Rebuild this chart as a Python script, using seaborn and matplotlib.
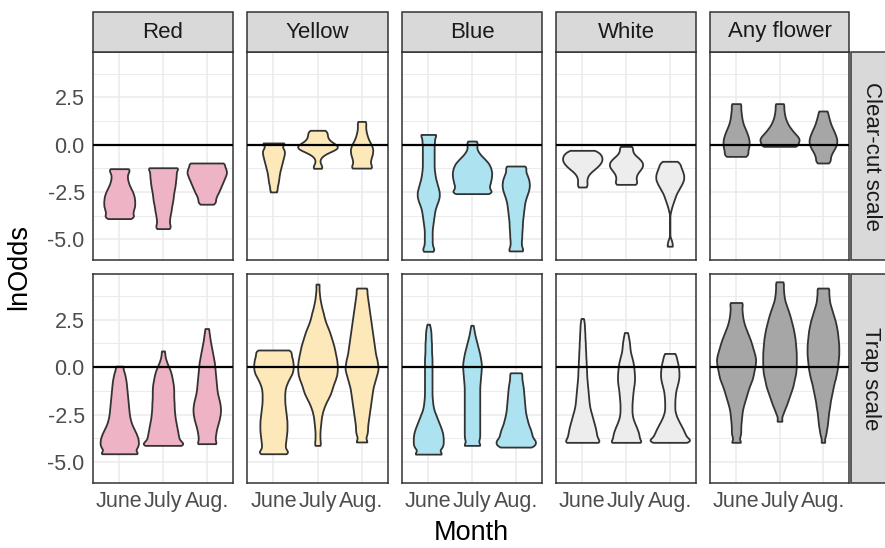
import numpy as np
import pandas as pd
import matplotlib
matplotlib.use("Agg")
import matplotlib.pyplot as plt
from matplotlib.patches import Rectangle
import seaborn as sns

MONTHS = ["June", "July", "Aug."]
COLOURS = ["Red", "Yellow", "Blue", "White", "Any flower"]
SCALES = ["Clear-cut scale", "Trap scale"]
FILLS = ["#EEB3C4", "#FCE8B9", "#ADE2F1", "#EDEDED", "#A6A6A6"]
Y_TICKS = [-5.0, -2.5, 0.0, 2.5]
Y_TICK_LABELS = ["-5.0", "-2.5", "0.0", "2.5"]

# Frequency tables: (lnOdds, number of observations) for each month.
CC_RED = {
    "June": [(-1.27, 22), (-1.5, 16), (-1.75, 16), (-2.0, 18), (-2.25, 22), (-2.5, 27), (-2.75, 30),
             (-3.0, 31), (-3.25, 31), (-3.5, 28), (-3.75, 24), (-3.91, 20)],
    "July": [(-1.22, 34), (-1.5, 25), (-1.75, 24), (-2.0, 23), (-2.25, 22), (-2.5, 20), (-2.75, 19),
             (-3.0, 18), (-3.25, 16), (-3.5, 15), (-3.75, 13), (-4.0, 12), (-4.25, 11), (-4.44, 12)],
    "Aug.": [(-0.97, 42), (-1.25, 39), (-1.5, 40), (-1.75, 36), (-2.0, 32), (-2.25, 28), (-2.5, 24),
             (-2.75, 19), (-3.0, 15), (-3.15, 10)],
}
CC_YELLOW = {
    "June": [(0.09, 24), (-0.25, 19), (-0.5, 18), (-0.75, 16), (-1.0, 14), (-1.25, 12), (-1.5, 10),
             (-1.75, 9), (-2.0, 8), (-2.25, 6), (-2.5, 6)],
    "July": [(0.76, 24), (0.625, 17), (0.5, 17), (0.375, 18), (0.25, 19), (0.125, 24), (0.0, 36),
             (-0.125, 42), (-0.25, 36), (-0.375, 22), (-0.5, 12), (-0.625, 7), (-0.75, 4), (-0.875, 3),
             (-1.0, 4), (-1.125, 8), (-1.25, 14)],
    "Aug.": [(1.23, 8), (1.0, 7), (0.75, 8), (0.5, 10), (0.25, 13), (0.0, 18), (-0.25, 21), (-0.5, 20),
             (-0.75, 17), (-1.0, 15), (-1.24, 21)],
}
CC_BLUE = {
    "June": [(0.54, 15), (0.25, 10), (0.0, 9), (-0.25, 9), (-0.5, 9), (-0.75, 9), (-1.0, 9), (-1.25, 9),
             (-1.5, 10), (-1.75, 11), (-2.0, 13), (-2.25, 15), (-2.5, 17), (-2.75, 17), (-3.0, 15),
             (-3.25, 12), (-3.5, 10), (-3.75, 9), (-4.0, 8), (-4.25, 7), (-4.5, 6), (-4.75, 6), (-5.0, 6),
             (-5.25, 6), (-5.5, 7), (-5.64, 6)],
    "July": [(0.19, 9), (0.0, 9), (-0.25, 10), (-0.5, 16), (-0.75, 26), (-1.0, 35), (-1.25, 39), (-1.5, 41),
             (-1.75, 40), (-2.0, 38), (-2.25, 35), (-2.5, 33), (-2.59, 20)],
    "Aug.": [(-1.13, 20), (-1.375, 17), (-1.625, 21), (-1.875, 24), (-2.125, 25), (-2.375, 24), (-2.625, 21),
             (-2.875, 18), (-3.125, 16), (-3.375, 15), (-3.625, 14), (-3.875, 13), (-4.125, 12),
             (-4.375, 12), (-4.625, 11), (-4.875, 11), (-5.125, 10), (-5.375, 10), (-5.62, 15)],
}
CC_WHITE = {
    "June": [(-0.30, 30), (-0.5, 38), (-0.7, 41), (-0.9, 40), (-1.1, 34), (-1.3, 25), (-1.5, 15), (-1.7, 10),
             (-1.9, 9), (-2.1, 9), (-2.24, 8)],
    "July": [(-0.09, 17), (-0.3, 13), (-0.5, 16), (-0.7, 27), (-0.9, 35), (-1.1, 37), (-1.3, 32), (-1.5, 24),
             (-1.7, 21), (-1.9, 21), (-2.10, 28)],
    "Aug.": [(-0.88, 14), (-1.1, 19), (-1.35, 23), (-1.6, 26), (-1.85, 26), (-2.1, 22), (-2.35, 17),
             (-2.6, 12), (-2.85, 9), (-3.1, 6), (-3.35, 3), (-3.55, 1), (-5.1, 4), (-5.37, 6)],
}
CC_ANY = {
    "June": [(2.17, 14), (1.95, 10), (1.75, 11), (1.55, 12), (1.35, 13), (1.15, 15), (0.95, 18), (0.75, 22),
             (0.55, 25), (0.35, 28), (0.15, 29), (-0.05, 29), (-0.25, 27), (-0.45, 23), (-0.62, 26)],
    "July": [(2.17, 11), (1.95, 8), (1.75, 9), (1.55, 10), (1.35, 12), (1.15, 15), (0.95, 19), (0.75, 25),
             (0.55, 31), (0.35, 39), (0.15, 40), (-0.09, 46)],
    "Aug.": [(1.78, 12), (1.55, 11), (1.35, 13), (1.15, 15), (0.95, 18), (0.75, 22), (0.55, 25), (0.35, 28),
             (0.15, 29), (-0.05, 27), (-0.25, 23), (-0.45, 18), (-0.65, 15), (-0.85, 13), (-0.97, 10)],
}
TS_RED = {
    "June": [(0.05, 10), (-0.25, 11), (-0.5, 13), (-0.75, 15), (-1.0, 16), (-1.25, 17), (-1.5, 18),
             (-1.75, 19), (-2.0, 20), (-2.25, 21), (-2.5, 22), (-2.75, 24), (-3.0, 27), (-3.25, 32),
             (-3.5, 37), (-3.75, 41), (-4.0, 42), (-4.25, 41), (-4.56, 52)],
    "July": [(0.85, 4), (0.6, 4), (0.35, 7), (0.1, 11), (-0.15, 16), (-0.4, 19), (-0.65, 21), (-0.9, 23),
             (-1.15, 24), (-1.4, 24), (-1.65, 24), (-1.9, 25), (-2.15, 25), (-2.4, 26), (-2.65, 27),
             (-2.9, 29), (-3.15, 31), (-3.4, 33), (-3.65, 35), (-3.9, 36), (-4.12, 48)],
    "Aug.": [(2.03, 5), (1.75, 6), (1.5, 7), (1.25, 9), (1.0, 11), (0.75, 13), (0.5, 15), (0.25, 17),
             (0.0, 18), (-0.25, 19), (-0.5, 20), (-0.75, 21), (-1.0, 22), (-1.25, 23), (-1.5, 25),
             (-1.75, 28), (-2.0, 30), (-2.25, 31), (-2.5, 30), (-2.75, 28), (-3.0, 25), (-3.25, 22),
             (-3.5, 20), (-3.75, 19), (-4.03, 26)],
}
TS_YELLOW = {
    "June": [(0.90, 33), (0.65, 31), (0.4, 34), (0.15, 35), (-0.1, 35), (-0.35, 33), (-0.6, 28), (-0.85, 24),
             (-1.1, 21), (-1.35, 20), (-1.6, 20), (-1.85, 20), (-2.1, 21), (-2.35, 22), (-2.6, 23),
             (-2.85, 24), (-3.1, 24), (-3.35, 24), (-3.6, 23), (-3.85, 22), (-4.1, 21), (-4.35, 20),
             (-4.56, 26)],
    "July": [(4.37, 4), (4.1, 3), (3.85, 4), (3.6, 5), (3.35, 7), (3.1, 9), (2.85, 12), (2.6, 14), (2.35, 17),
             (2.1, 21), (1.85, 25), (1.6, 28), (1.35, 31), (1.1, 34), (0.85, 36), (0.6, 38), (0.35, 40),
             (0.1, 41), (-0.15, 41), (-0.4, 40), (-0.65, 37), (-0.9, 33), (-1.15, 30), (-1.4, 27),
             (-1.65, 22), (-1.9, 17), (-2.15, 13), (-2.4, 10), (-2.65, 8), (-2.9, 7), (-3.15, 6),
             (-3.4, 5), (-3.65, 5), (-3.9, 5), (-4.12, 6)],
    "Aug.": [(4.16, 9), (3.9, 8), (3.65, 9), (3.4, 10), (3.15, 11), (2.9, 12), (2.65, 13), (2.4, 14),
             (2.15, 15), (1.9, 16), (1.65, 17), (1.4, 18), (1.15, 19), (0.9, 20), (0.65, 21), (0.4, 23),
             (0.15, 24), (-0.1, 25), (-0.35, 23), (-0.6, 21), (-0.85, 19), (-1.1, 17), (-1.35, 16),
             (-1.6, 15), (-1.85, 14), (-2.1, 13), (-2.35, 12), (-2.6, 11), (-2.85, 10), (-3.1, 9),
             (-3.35, 9), (-3.6, 8), (-3.94, 11)],
}
TS_BLUE = {
    "June": [(2.26, 3), (2.0, 5), (1.75, 6), (1.5, 6), (1.25, 7), (1.0, 7), (0.75, 7), (0.5, 8), (0.25, 8),
             (0.0, 8), (-0.25, 8), (-0.5, 8), (-0.75, 8), (-1.0, 8), (-1.25, 8), (-1.5, 8), (-1.75, 9),
             (-2.0, 10), (-2.25, 12), (-2.5, 16), (-2.75, 20), (-3.0, 24), (-3.25, 28), (-3.5, 31),
             (-3.75, 32), (-4.0, 32), (-4.25, 31), (-4.58, 38)],
    "July": [(2.20, 3), (1.95, 5), (1.7, 7), (1.45, 10), (1.2, 13), (0.95, 16), (0.7, 19), (0.45, 21),
             (0.2, 23), (-0.05, 23), (-0.3, 22), (-0.55, 21), (-0.8, 20), (-1.05, 19), (-1.3, 19),
             (-1.55, 19), (-1.8, 19), (-2.05, 19), (-2.3, 19), (-2.55, 19), (-2.8, 19), (-3.05, 19),
             (-3.3, 19), (-3.55, 19), (-3.8, 19), (-4.12, 26)],
    "Aug.": [(-0.30, 16), (-0.55, 14), (-0.8, 16), (-1.05, 18), (-1.3, 19), (-1.55, 20), (-1.8, 21),
             (-2.05, 22), (-2.3, 23), (-2.55, 25), (-2.8, 28), (-3.05, 31), (-3.3, 36), (-3.55, 39),
             (-3.8, 40), (-4.0, 39), (-4.21, 40)],
}
TS_WHITE = {
    "June": [(2.56, 3), (2.3, 5), (2.05, 5), (1.8, 6), (1.55, 6), (1.3, 7), (1.05, 7), (0.8, 8), (0.55, 8),
             (0.3, 9), (0.05, 9), (-0.2, 10), (-0.45, 10), (-0.7, 11), (-0.95, 12), (-1.2, 13), (-1.45, 14),
             (-1.7, 15), (-1.95, 16), (-2.2, 18), (-2.45, 21), (-2.7, 24), (-2.95, 27), (-3.2, 30),
             (-3.45, 32), (-3.7, 34), (-3.96, 46)],
    "July": [(1.82, 4), (1.57, 6), (1.32, 8), (1.07, 9), (0.82, 10), (0.57, 13), (0.32, 16), (0.07, 18),
             (-0.18, 19), (-0.43, 20), (-0.68, 20), (-0.93, 19), (-1.18, 17), (-1.43, 16), (-1.68, 15),
             (-1.93, 14), (-2.18, 14), (-2.43, 14), (-2.68, 16), (-2.93, 20), (-3.18, 25), (-3.43, 29),
             (-3.68, 32), (-3.96, 44)],
    "Aug.": [(0.72, 14), (0.47, 16), (0.22, 19), (-0.03, 21), (-0.28, 22), (-0.53, 22), (-0.78, 20),
             (-1.03, 17), (-1.28, 14), (-1.53, 13), (-1.78, 12), (-2.03, 12), (-2.28, 12), (-2.53, 15),
             (-2.78, 20), (-3.03, 26), (-3.28, 32), (-3.53, 37), (-3.78, 40), (-3.96, 40)],
}
TS_ANY = {
    "June": [(3.40, 15), (3.15, 12), (2.9, 13), (2.65, 14), (2.4, 16), (2.15, 19), (1.9, 23), (1.65, 27),
             (1.4, 31), (1.15, 34), (0.9, 37), (0.65, 40), (0.4, 42), (0.15, 41), (-0.1, 39), (-0.35, 37),
             (-0.6, 35), (-0.85, 31), (-1.1, 27), (-1.35, 24), (-1.6, 21), (-1.85, 18), (-2.1, 15),
             (-2.35, 13), (-2.6, 12), (-2.85, 11), (-3.1, 10), (-3.35, 10), (-3.6, 10), (-3.96, 13)],
    "July": [(4.49, 10), (4.25, 9), (4.0, 10), (3.75, 11), (3.5, 13), (3.25, 17), (3.0, 21), (2.75, 25),
             (2.5, 28), (2.25, 31), (2.0, 34), (1.75, 36), (1.5, 38), (1.25, 39), (1.0, 40), (0.75, 41),
             (0.5, 41), (0.25, 41), (0.0, 41), (-0.25, 40), (-0.5, 38), (-0.75, 35), (-1.0, 33),
             (-1.25, 29), (-1.5, 25), (-1.75, 21), (-2.0, 17), (-2.25, 12), (-2.5, 8), (-2.85, 8)],
    "Aug.": [(4.16, 14), (3.9, 12), (3.65, 13), (3.4, 14), (3.15, 17), (2.9, 20), (2.65, 23), (2.4, 26),
             (2.15, 28), (1.9, 30), (1.65, 31), (1.4, 32), (1.15, 33), (0.9, 33), (0.65, 33), (0.4, 32),
             (0.15, 31), (-0.1, 30), (-0.35, 28), (-0.6, 26), (-0.85, 23), (-1.1, 21), (-1.35, 19),
             (-1.6, 17), (-1.85, 15), (-2.1, 14), (-2.35, 12), (-2.6, 11), (-2.85, 10), (-3.1, 9),
             (-3.35, 7), (-3.6, 6), (-3.96, 5)],
}

TABLES = {
    ("Clear-cut scale", "Red"): CC_RED,
    ("Clear-cut scale", "Yellow"): CC_YELLOW,
    ("Clear-cut scale", "Blue"): CC_BLUE,
    ("Clear-cut scale", "White"): CC_WHITE,
    ("Clear-cut scale", "Any flower"): CC_ANY,
    ("Trap scale", "Red"): TS_RED,
    ("Trap scale", "Yellow"): TS_YELLOW,
    ("Trap scale", "Blue"): TS_BLUE,
    ("Trap scale", "White"): TS_WHITE,
    ("Trap scale", "Any flower"): TS_ANY,
}

# Expand the frequency tables into one long table of observations
frames = []
for (scale, colour), table in TABLES.items():
    for month in MONTHS:
        values, counts = zip(*table[month])
        frames.append(pd.DataFrame({"scale": scale, "colour": colour, "month": month,
                                    "lnOdds": np.repeat(values, counts)}))
df = pd.concat(frames, ignore_index=True)

# Gaussian kernel with a fixed bandwidth in lnOdds units
BANDWIDTH = 0.15


def kde_factor(kde):
    return BANDWIDTH / np.std(kde.dataset, ddof=1)


sns.set_style("white")
plt.rcParams["font.family"] = ["Liberation Sans", "DejaVu Sans"]

W, H = 885, 548
fig = plt.figure(figsize=(W / 100, H / 100), dpi=100)
COL_X = [(93, 233), (247, 388), (402, 542), (556, 696), (710, 849)]
ROW_Y = [(52, 260), (274, 483)]
STRIP_Y = (12, 52)
STRIP_X = (851, 891)
EDGE = "#333333"
TICK_SIZE = 15.5
STRIP_SIZE = 16
TITLE_SIZE = 19.5


def fig_box(x0, x1, y0, y1):
    return [x0 / W, 1 - y1 / H, (x1 - x0) / W, (y1 - y0) / H]


for r, scale in enumerate(SCALES):
    for c, colour in enumerate(COLOURS):
        ax = fig.add_axes(fig_box(*COL_X[c], *ROW_Y[r]))
        sub = df[(df["scale"] == scale) & (df["colour"] == colour)]
        sns.violinplot(data=sub, x="month", y="lnOdds", order=MONTHS, color=FILLS[c], saturation=1,
                       cut=0, width=0.9, density_norm="area", inner=None, linewidth=1.3,
                       linecolor=EDGE, bw_method=kde_factor, gridsize=200, ax=ax)
        ax.axhline(0, color="black", lw=1.6, zorder=5)
        ax.set_xlim(-0.6, 2.6)
        ax.set_ylim(-6.1, 4.9)
        ax.set_yticks(Y_TICKS)
        ax.set_yticklabels(Y_TICK_LABELS)
        ax.set_yticks([-3.75, -1.25, 1.25, 3.75], minor=True)
        ax.set_xticks(range(len(MONTHS)))
        ax.set_xticklabels(MONTHS)
        ax.set_axisbelow(True)
        ax.grid(True, which="major", color="#EBEBEB", lw=1.1)
        ax.grid(True, which="minor", axis="y", color="#EBEBEB", lw=0.7)
        ax.set_xlabel("")
        ax.set_ylabel("")
        for sp in ax.spines.values():
            sp.set_visible(True)
            sp.set_color(EDGE)
            sp.set_linewidth(1.1)
        ax.tick_params(which="major", length=3.8, width=1.0, color=EDGE, labelcolor="#4D4D4D",
                       labelsize=TICK_SIZE, pad=2.2)
        ax.tick_params(which="minor", length=0)
        if c != 0:
            ax.tick_params(axis="y", left=False, labelleft=False)
        if r != len(SCALES) - 1:
            ax.tick_params(axis="x", bottom=False, labelbottom=False)

# Facet strips
for c, colour in enumerate(COLOURS):
    x0, x1 = COL_X[c]
    fig.patches.append(Rectangle((x0 / W, 1 - STRIP_Y[1] / H), (x1 - x0) / W, (STRIP_Y[1] - STRIP_Y[0]) / H,
                                 transform=fig.transFigure, facecolor="#D9D9D9", edgecolor=EDGE, lw=1.1))
    fig.text((x0 + x1) / 2 / W, 1 - sum(STRIP_Y) / 2 / H, colour, ha="center", va="center",
             fontsize=STRIP_SIZE, color="#1A1A1A")
for r, scale in enumerate(SCALES):
    y0, y1 = ROW_Y[r]
    fig.patches.append(Rectangle((STRIP_X[0] / W, 1 - y1 / H), (STRIP_X[1] - STRIP_X[0]) / W, (y1 - y0) / H,
                                 transform=fig.transFigure, facecolor="#D9D9D9", edgecolor=EDGE, lw=1.1))
    fig.text(sum(STRIP_X) / 2 / W, 1 - (y0 + y1) / 2 / H, scale, ha="center", va="center",
             rotation=270, fontsize=STRIP_SIZE, color="#1A1A1A")

fig.text(19 / W, 1 - 267 / H, "lnOdds", ha="center", va="center", rotation=90, fontsize=TITLE_SIZE,
         color="black")
fig.text(471 / W, 1 - 533 / H, "Month", ha="center", va="center", fontsize=TITLE_SIZE, color="black")

fig.savefig("out.png", dpi=100)
